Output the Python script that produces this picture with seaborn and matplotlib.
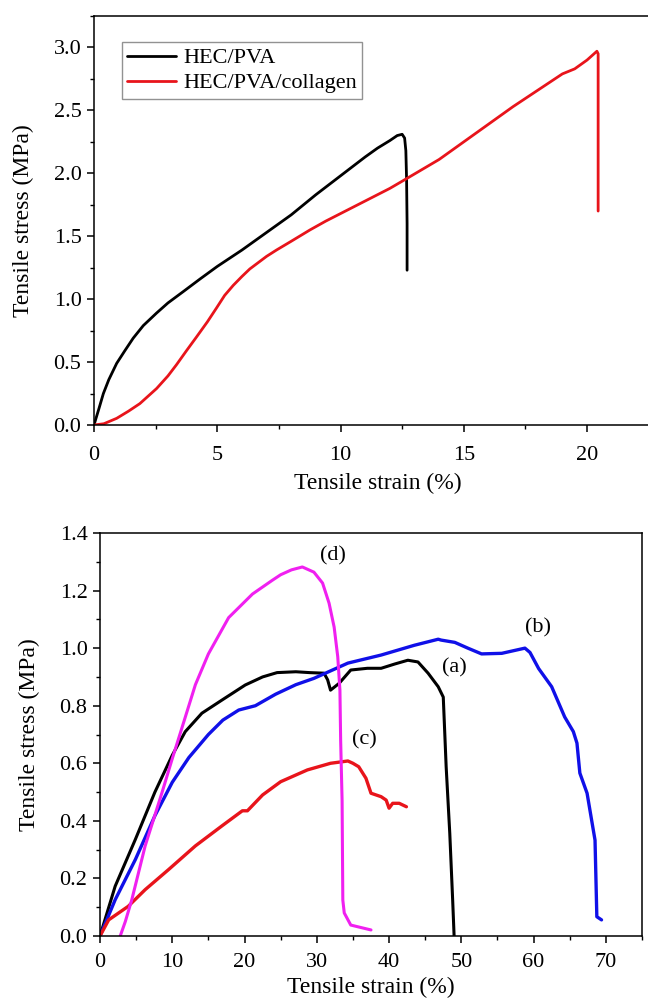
"""
Tensile stress-strain curves for the HEC/PVA films (top) and the
four hydrogel formulations (a)-(d) (bottom).

Writes out.png (648x1000 px).
"""

import matplotlib.pyplot as plt
import pandas as pd
import seaborn as sns
from matplotlib.ticker import MultipleLocator

sns.set_theme(style="ticks")
plt.rcParams["font.family"] = ["Liberation Serif", "DejaVu Serif"]
plt.rcParams.update({"axes.edgecolor": "black", "axes.linewidth": 1.1,
                     "xtick.color": "black", "ytick.color": "black",
                     "text.color": "black", "axes.labelcolor": "black"})

# ---- top panel: films -------------------------------------------------------
HEC_PVA_X = [0, 0.2, 0.38, 0.6, 0.92, 1.25, 1.59, 2.0, 2.54, 3.0, 3.62, 4.3,
             5.0, 6.0, 7.0, 8.0, 9.0, 10.0, 11.0, 11.5, 12.0, 12.3, 12.5,
             12.6, 12.65, 12.68, 12.7, 12.7]
HEC_PVA_Y = [0, 0.13, 0.25, 0.36, 0.49, 0.59, 0.69, 0.79, 0.89, 0.97, 1.06,
             1.16, 1.26, 1.39, 1.53, 1.67, 1.83, 1.98, 2.13, 2.20, 2.26, 2.30,
             2.31, 2.28, 2.18, 1.95, 1.6, 1.23]

COLL_X = [0, 0.4, 0.92, 1.4, 1.86, 2.2, 2.54, 3.0, 3.35, 3.75, 4.16, 4.6, 4.97,
          5.3, 5.65, 6.0, 6.32, 7.0, 7.4, 8.0, 8.76, 9.4, 10.0, 11.0, 12.0,
          12.7, 14.0, 15.0, 16.0, 17.0, 18.0, 19.0, 19.5, 20.0, 20.4, 20.45,
          20.45]
COLL_Y = [0, 0.01, 0.053, 0.11, 0.17, 0.23, 0.29, 0.39, 0.48, 0.59, 0.70, 0.82,
          0.93, 1.03, 1.11, 1.18, 1.24, 1.34, 1.39, 1.46, 1.55, 1.62, 1.68,
          1.78, 1.88, 1.96, 2.11, 2.25, 2.39, 2.53, 2.66, 2.79, 2.83, 2.90,
          2.97, 2.95, 1.70]

# ---- bottom panel: hydrogels (a)-(d) ----------------------------------------
A_X = [0, 2.1, 4.9, 7.6, 10.0, 11.8, 14.1, 16.9, 20.1, 22.5, 24.5, 27.1, 29.0,
       31.0, 31.5, 31.9, 33.1, 34.7, 37.0, 38.9, 40.8, 42.6, 44.0, 45.4,
       46.8, 47.5, 47.9, 48.4, 48.8, 49.0]
A_Y = [0, 0.173, 0.336, 0.50, 0.628, 0.71, 0.774, 0.82, 0.872, 0.90, 0.915,
       0.918, 0.915, 0.913, 0.89, 0.854, 0.878, 0.924, 0.93, 0.93, 0.945,
       0.958, 0.952, 0.913, 0.866, 0.83, 0.588, 0.357, 0.125, 0.0]

B_X = [0, 2.1, 4.9, 7.6, 10.0, 12.3, 15.0, 17.0, 19.2, 21.5, 24.3, 27.1, 29.6,
       34.3, 38.9, 43.5, 46.8, 47.2, 49.1, 50.9, 52.8, 55.6, 58.8, 59.5,
       60.7, 62.5, 64.3, 65.5, 66.0, 66.4, 67.4, 68.1, 68.5, 68.75, 69.4]
B_Y = [0, 0.126, 0.266, 0.418, 0.534, 0.62, 0.70, 0.75, 0.785, 0.80, 0.84,
       0.873, 0.895, 0.948, 0.976, 1.01, 1.031, 1.028, 1.02, 1.0, 0.98, 0.982,
       1.0, 0.985, 0.929, 0.866, 0.761, 0.71, 0.67, 0.566, 0.496, 0.392,
       0.333, 0.067, 0.056]

C_X = [0, 1.2, 3.9, 6.25, 9.5, 13.2, 16.9, 19.7, 20.4, 22.5, 25.0, 28.7, 31.9,
       34.3, 35.0, 35.8, 36.8, 37.5, 38.9, 39.6, 40.0, 40.5, 41.4, 42.4]
C_Y = [0, 0.056, 0.103, 0.161, 0.231, 0.313, 0.383, 0.435, 0.435, 0.49, 0.536,
       0.577, 0.60, 0.608, 0.60, 0.588, 0.548, 0.496, 0.484, 0.472, 0.444,
       0.461, 0.461, 0.449]

D_X = [2.8, 3.5, 4.4, 6.25, 8.6, 10.0, 11.3, 13.2, 15.0, 17.8, 21.1, 23.8,
       25.0, 26.5, 28.0, 29.6, 30.8, 31.7, 32.4, 32.9, 33.2, 33.3, 33.5,
       33.6, 33.8, 34.7, 37.5]
D_Y = [0, 0.05, 0.126, 0.313, 0.50, 0.616, 0.72, 0.873, 0.98, 1.106, 1.188,
       1.235, 1.255, 1.272, 1.282, 1.264, 1.226, 1.156, 1.073, 0.97, 0.854,
       0.68, 0.47, 0.125, 0.08, 0.038, 0.021]

CURVE_LABELS = ["(a)", "(b)", "(c)", "(d)"]
LABEL_X = [49.1, 60.6, 36.6, 32.2]
LABEL_Y = [0.93, 1.07, 0.68, 1.32]


def _curve(ax, x, y, color, lw, label=None):
    df = pd.DataFrame({"x": x, "y": y})
    sns.lineplot(data=df, x="x", y="y", ax=ax, sort=False, estimator=None,
                 color=color, lw=lw, label=label)


def _style(ax, xpad):
    ax.tick_params(which="major", direction="out", length=5, width=1.1,
                   labelsize=16, pad=4)
    ax.tick_params(axis="x", which="major", pad=xpad)
    ax.tick_params(which="minor", direction="out", length=3, width=1.0)
    ax.tick_params(top=False, right=False)


fig = plt.figure(figsize=(6.48, 10), dpi=100)

# top panel
ax1 = fig.add_axes([94 / 648, 1 - 425 / 1000, 567 / 648, 409 / 1000])
_curve(ax1, HEC_PVA_X, HEC_PVA_Y, "black", 2.0, "HEC/PVA")
_curve(ax1, COLL_X, COLL_Y, "#e8141b", 2.0, "HEC/PVA/collagen")
ax1.set_xlim(0, 23)
ax1.set_ylim(0, 3.25)
ax1.xaxis.set_major_locator(MultipleLocator(5))
ax1.xaxis.set_minor_locator(MultipleLocator(2.5))
ax1.yaxis.set_major_locator(MultipleLocator(0.5))
ax1.yaxis.set_minor_locator(MultipleLocator(0.25))
ax1.yaxis.set_major_formatter(lambda v, p: f"{v:.1f}")
ax1.set_xlabel("Tensile strain (%)", fontsize=17, labelpad=6)
ax1.set_ylabel("Tensile stress (MPa)", fontsize=17, labelpad=14)
_style(ax1, 10)
leg = ax1.legend(loc="upper left", bbox_to_anchor=(0.049, 0.936), fontsize=16,
                 frameon=True, fancybox=False, edgecolor="#777777",
                 handlelength=2.2, handletextpad=0.3, borderpad=0.25,
                 labelspacing=0.2, borderaxespad=0)
leg.get_frame().set_linewidth(1.0)

# bottom panel
ax2 = fig.add_axes([100 / 648, 1 - 936 / 1000, 542 / 648, 403 / 1000])
_curve(ax2, A_X, A_Y, "black", 2.2)
_curve(ax2, B_X, B_Y, "#1010e8", 2.4)
_curve(ax2, C_X, C_Y, "#e8141b", 2.4)
_curve(ax2, D_X, D_Y, "#f020f0", 2.2)
for lab, lx, ly in zip(CURVE_LABELS, LABEL_X, LABEL_Y):
    ax2.text(lx, ly, lab, fontsize=16, ha="center", va="center")
ax2.set_xlim(0, 75)
ax2.set_ylim(0, 1.4)
ax2.xaxis.set_major_locator(MultipleLocator(10))
ax2.xaxis.set_minor_locator(MultipleLocator(5))
ax2.yaxis.set_major_locator(MultipleLocator(0.2))
ax2.yaxis.set_minor_locator(MultipleLocator(0.1))
ax2.yaxis.set_major_formatter(lambda v, p: f"{v:.1f}")
ax2.set_xlabel("Tensile strain (%)", fontsize=17, labelpad=4)
ax2.set_ylabel("Tensile stress (MPa)", fontsize=17, labelpad=14)
_style(ax2, 7)

fig.savefig("out.png", dpi=100)
